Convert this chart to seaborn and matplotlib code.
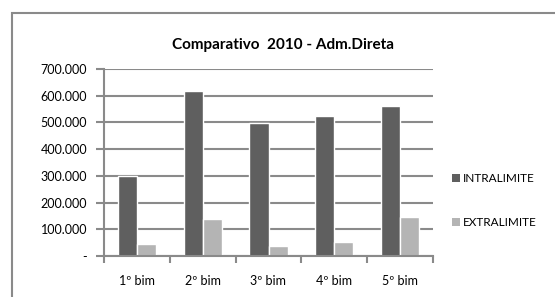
import pandas as pd
import matplotlib.pyplot as plt
import matplotlib.ticker as mticker
from matplotlib.patches import Rectangle
import seaborn as sns

# values
bimestres = ["1º bim", "2º bim", "3º bim", "4º bim", "5º bim"]
intralimite = [301000, 619000, 499000, 524000, 562000]
extralimite = [46000, 140000, 36000, 52000, 145000]
series = ["INTRALIMITE", "EXTRALIMITE"]
colors = ["#5f5f5f", "#b4b4b4"]

df = pd.DataFrame({
    "bim": bimestres * 2,
    "valor": intralimite + extralimite,
    "serie": [series[0]] * 5 + [series[1]] * 5,
})

sns.set_style("white")
plt.rcParams["font.family"] = ["Lato", "DejaVu Sans"]
plt.rcParams["text.color"] = "black"
plt.rcParams["xtick.color"] = "black"
plt.rcParams["ytick.color"] = "black"

fig = plt.figure(figsize=(5.55, 2.97), dpi=100)
ax = fig.add_axes([104 / 555, 1 - 256 / 297, (433 - 104) / 555, (256 - 69) / 297])

# outer chart frame (cut off at right/bottom like the reference)
fig.patches.append(Rectangle((12 / 555, -0.1), 1.2, 1 - 13 / 297 + 0.1,
                             transform=fig.transFigure, fill=False,
                             edgecolor="#8a8a8a", linewidth=1.5))

sns.barplot(data=df, x="bim", y="valor", hue="serie", palette=colors,
            width=0.58, gap=0, saturation=1, ax=ax, legend=False)

ax.set_ylim(0, 700000)
ax.set_xlim(-0.5, 4.5)
ax.yaxis.set_major_locator(mticker.MultipleLocator(100000))
ax.yaxis.set_major_formatter(mticker.FuncFormatter(
    lambda v, p: "-" if v == 0 else f"{int(v):,}".replace(",", ".")))
ax.grid(axis="y", color="#8a8a8a", linewidth=1.5)
ax.set_axisbelow(True)
for s in ["top", "right"]:
    ax.spines[s].set_visible(False)
for s in ["left", "bottom"]:
    ax.spines[s].set_color("#8a8a8a")
    ax.spines[s].set_linewidth(1.5)
ax.tick_params(axis="y", left=True, length=6, width=1.5, color="#8a8a8a",
               labelsize=9, pad=6, labelcolor="black")
ax.tick_params(axis="x", bottom=False, labelsize=9, pad=10, labelcolor="black")
ax.set_xticks(range(5))
ax.set_xticklabels(bimestres)
ax.xaxis.set_minor_locator(mticker.FixedLocator([i - 0.5 for i in range(6)]))
ax.tick_params(axis="x", which="minor", bottom=True, length=5, width=1.5,
               color="#8a8a8a", direction="out")
ax.set_xlabel("")
ax.set_ylabel("")

fig.text(283 / 555, 1 - 45 / 297, "Comparativo  2010 - Adm.Direta",
         ha="center", va="center", fontsize=11, fontweight="bold")

for i, (name, c) in enumerate(zip(series, colors)):
    y = 1 - (178 + 44 * i) / 297
    fig.patches.append(Rectangle((452 / 555, y - 3.5 / 297), 8 / 555, 8 / 297,
                                 transform=fig.transFigure, facecolor=c,
                                 edgecolor="none"))
    fig.text(463 / 555, y, name, ha="left", va="center", fontsize=8.5)

fig.savefig("out.png", dpi=100)
